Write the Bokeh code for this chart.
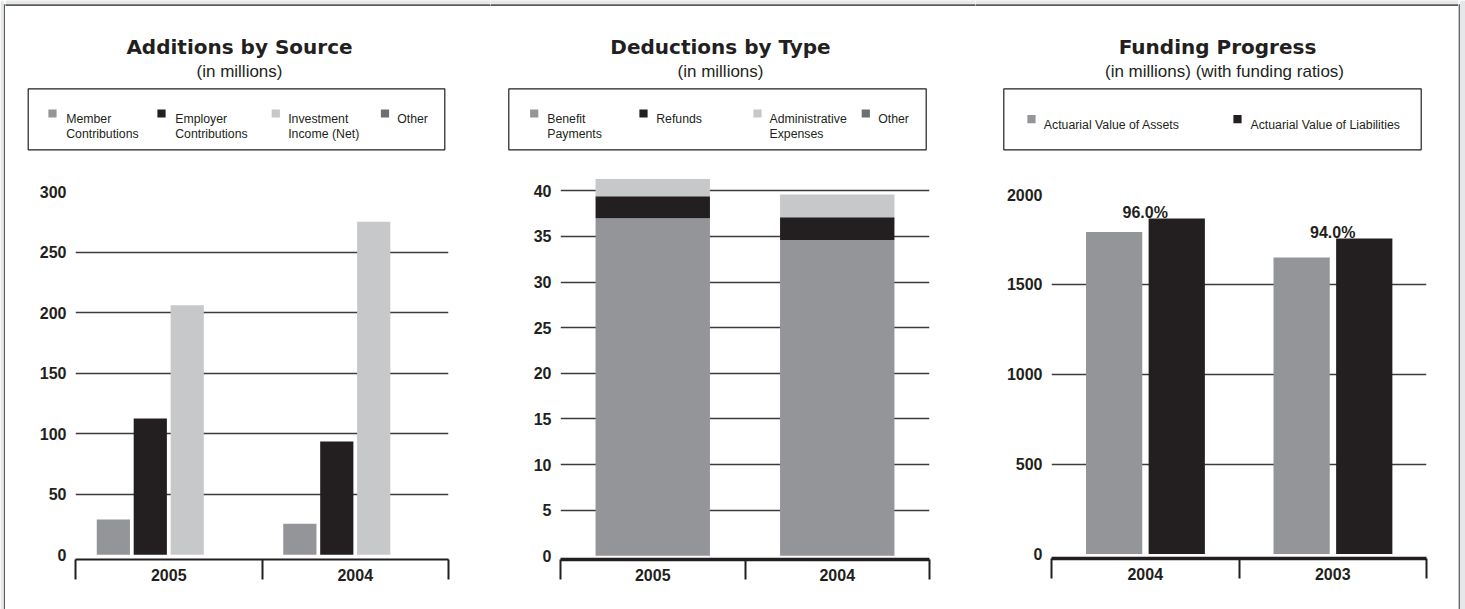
from bokeh.plotting import figure
from bokeh.layouts import row, column
from bokeh.models import Range1d, LinearAxis, FixedTicker, Grid, ColumnDataSource
from bokeh.transform import dodge
from bokeh.core.properties import value
from bokeh.embed import file_html
from bokeh.resources import INLINE

# ---------------- data ----------------
additions_years = ["2005", "2004"]
member_contributions = [29.0, 25.5]
employer_contributions = [112.5, 93.5]
investment_income = [206.0, 275.0]
other_additions = [0.0, 0.0]
additions_legend = ["Member\nContributions", "Employer\nContributions",
                    "Investment\nIncome (Net)", "Other"]
additions_ticks = [0, 50, 100, 150, 200, 250, 300]

deductions_years = ["2005", "2004"]
benefit_payments = [37.0, 34.6]
refunds = [2.4, 2.5]
administrative_expenses = [1.9, 2.5]
other_deductions = [0.0, 0.0]
deductions_legend = ["Benefit\nPayments", "Refunds", "Administrative\nExpenses", "Other"]
deductions_ticks = [0, 5, 10, 15, 20, 25, 30, 35, 40]

funding_years = ["2004", "2003"]
actuarial_assets = [1792.0, 1650.0]
actuarial_liabilities = [1866.0, 1755.0]
funding_legend = ["Actuarial Value of Assets", "Actuarial Value of Liabilities"]
funding_ticks = [0, 500, 1000, 1500, 2000]

# ---------------- styles ----------------
MID = "#939598"
BLACK = "#231f20"
LIGHT = "#c7c8ca"
DARK = "#6d6e71"
INK = "#231f20"
GRID = "#3c3b3d"
PAGE_BG = "#e6e7e8"
FRAME = "#58595b"

HEADER_H = 160
CHART_H = 449
TOTAL_H = HEADER_H + CHART_H


def bare_figure(width, height, x_range, y_range, **kw):
    return figure(width=width, height=height, x_range=x_range, y_range=y_range,
                  output_backend="svg", toolbar_location=None,
                  x_axis_type=None, y_axis_type=None,
                  outline_line_color=None, frame_align=False, **kw)


def side_strip(width, line_x, gray_left, gray_right):
    p = bare_figure(width, TOTAL_H, Range1d(0, width), Range1d(TOTAL_H, 0), min_border=0)
    p.quad(left=[gray_left], right=[gray_right], top=[0], bottom=[TOTAL_H],
           fill_color=PAGE_BG, line_color=None)
    p.segment(x0=[line_x], y0=[3.8], x1=[line_x], y1=[TOTAL_H + 5],
              line_color=FRAME, line_width=1.6)
    return p


def header(width, title, title_x, subtitle, subtitle_x, box, labels, colors,
           swatch_x, swatch_y, text_x, text_y):
    p = bare_figure(width, HEADER_H, Range1d(0, width), Range1d(HEADER_H, 0), min_border=0)
    # top edge of the page frame
    p.quad(left=[-5], right=[width + 5], top=[-5], bottom=[3.8],
           fill_color=PAGE_BG, line_color=None)
    p.segment(x0=[-5], y0=[4.6], x1=[width + 5], y1=[4.6], line_color=FRAME, line_width=1.6)

    p.text(x=[title_x], y=[46.7], text=[title], text_font=value("DejaVu Sans"),
           text_font_style="bold", text_font_size="20px", text_color=INK,
           text_align="center", text_baseline="alphabetic")
    p.text(x=[subtitle_x], y=[70.5], text=[subtitle], text_font=value("Liberation Sans"),
           text_font_size="17px", text_color=INK,
           text_align="center", text_baseline="alphabetic")

    # legend box
    left, right, top, bottom = box
    p.quad(left=[left], right=[right], top=[top], bottom=[bottom],
           fill_color=None, line_color=INK, line_width=1.2)
    p.scatter(x=swatch_x, y=[swatch_y] * len(labels), marker="square", size=8.2,
              fill_color=colors, line_color=None)
    xs, ys, lines = [], [], []
    for lx, label in zip(text_x, labels):
        for j, part in enumerate(label.split("\n")):
            xs.append(lx)
            ys.append(text_y + j * 15.4)
            lines.append(part)
    p.text(x=xs, y=ys, text=lines, text_font=value("Liberation Sans"),
           text_font_size="12.3px", text_color=INK,
           text_align="left", text_baseline="alphabetic")
    return p


def chart(width, border_l, border_r, border_t, border_b, y_start, y_end,
          yticks, categories, axis_width):
    n = len(categories)
    p = bare_figure(width, CHART_H, Range1d(0, n), Range1d(y_start, y_end),
                    min_border_left=border_l, min_border_right=border_r,
                    min_border_top=border_t, min_border_bottom=border_b)
    yaxis = LinearAxis(ticker=FixedTicker(ticks=yticks),
                       axis_line_color=None, major_tick_line_color=None,
                       minor_tick_line_color=None, major_tick_out=0, major_tick_in=0,
                       major_label_standoff=9,
                       major_label_text_font="Liberation Sans",
                       major_label_text_font_style="bold",
                       major_label_text_font_size="16px",
                       major_label_text_color=INK)
    p.add_layout(yaxis, "left")
    p.add_layout(Grid(dimension=1, ticker=FixedTicker(ticks=[t for t in yticks if t > 0]),
                      grid_line_color=GRID, grid_line_width=1.3), "center")

    # year labels sit at the category centres, boundary ticks between them
    centers = [i + 0.5 for i in range(n)]
    xaxis = LinearAxis(ticker=FixedTicker(ticks=centers, minor_ticks=list(range(n + 1))),
                       major_label_overrides={c: cat for c, cat in zip(centers, categories)},
                       axis_line_color=INK, axis_line_width=axis_width,
                       major_tick_line_color=None, major_tick_out=0, major_tick_in=0,
                       minor_tick_line_color=INK, minor_tick_line_width=2,
                       minor_tick_out=20, minor_tick_in=0,
                       major_label_standoff=-11,
                       major_label_text_font="Liberation Sans",
                       major_label_text_font_style="bold",
                       major_label_text_font_size="16px",
                       major_label_text_color=INK)
    p.add_layout(xaxis, "below")
    return p, centers


# ---------------- Additions by Source ----------------
h1 = header(485, "Additions by Source", 234, "(in millions)", 234,
            (22.7, 439.3, 88.3, 149.3), additions_legend, [MID, BLACK, LIGHT, DARK],
            [47, 156, 270.3, 379.5], 113, [60.7, 169.7, 282.7, 391.7], 118.3)
c1, centers1 = chart(485, 70, 42, 31, 50, -4, 300, additions_ticks, additions_years, 2.2)
src1 = ColumnDataSource(dict(xc=centers1, member=member_contributions,
                             employer=employer_contributions,
                             investment=investment_income, other=other_additions))
step1 = 0.198
for k, (field, color) in enumerate(zip(["member", "employer", "investment", "other"],
                                       [MID, BLACK, LIGHT, DARK])):
    c1.vbar(x=dodge("xc", (k - 1.5) * step1), top=field, width=0.178,
            fill_color=color, line_color=None, source=src1)

# ---------------- Deductions by Type ----------------
h2 = header(485, "Deductions by Type", 230, "(in millions)", 230,
            (18.3, 435.7, 88.3, 149.3), deductions_legend, [MID, BLACK, LIGHT, DARK],
            [43.7, 153, 267, 375.3], 113, [56.7, 165.7, 279, 387.7], 118.3)
c2, centers2 = chart(485, 70, 46, 12, 50, -0.4, 42, deductions_ticks, deductions_years, 3.3)
src2 = ColumnDataSource(dict(xc=centers2, benefit=benefit_payments, refunds=refunds,
                             admin=administrative_expenses, other=other_deductions))
c2.vbar_stack(["benefit", "refunds", "admin", "other"], x="xc", width=0.62,
              fill_color=[MID, BLACK, LIGHT, DARK], line_color=None, source=src2)

# ---------------- Funding Progress ----------------
h3 = header(483, "Funding Progress", 242, "(in millions) (with funding ratios)", 249,
            (28.3, 445.7, 88.3, 149.3), funding_legend, [MID, BLACK],
            [56, 262], 118.7, [68.3, 275], 124)
c3, centers3 = chart(483, 76, 32, 34, 51, -25, 2000, funding_ticks, funding_years, 3.3)
ratio_text = [f"{a / l * 100:.1f}%" for a, l in zip(actuarial_assets, actuarial_liabilities)]
src3 = ColumnDataSource(dict(xc=centers3, assets=actuarial_assets,
                             liabilities=actuarial_liabilities, ratio=ratio_text))
c3.vbar(x=dodge("xc", -0.166), top="assets", width=0.30,
        fill_color=MID, line_color=None, source=src3)
c3.vbar(x=dodge("xc", 0.168), top="liabilities", width=0.30,
        fill_color=BLACK, line_color=None, source=src3)
c3.text(x="xc", y="liabilities", text="ratio", source=src3, y_offset=-6,
        text_font=value("Liberation Sans"), text_font_style="bold",
        text_font_size="16px", text_color=INK,
        text_align="center", text_baseline="alphabetic")

left_strip = side_strip(5, 4.2, 0, 3.4)
right_strip = side_strip(7, 0.6, 1.4, 7)

layout = row(left_strip,
             column(h1, c1),
             column(h2, c2),
             column(h3, c3),
             right_strip)

open("out.html", "w").write(file_html(layout, INLINE))
